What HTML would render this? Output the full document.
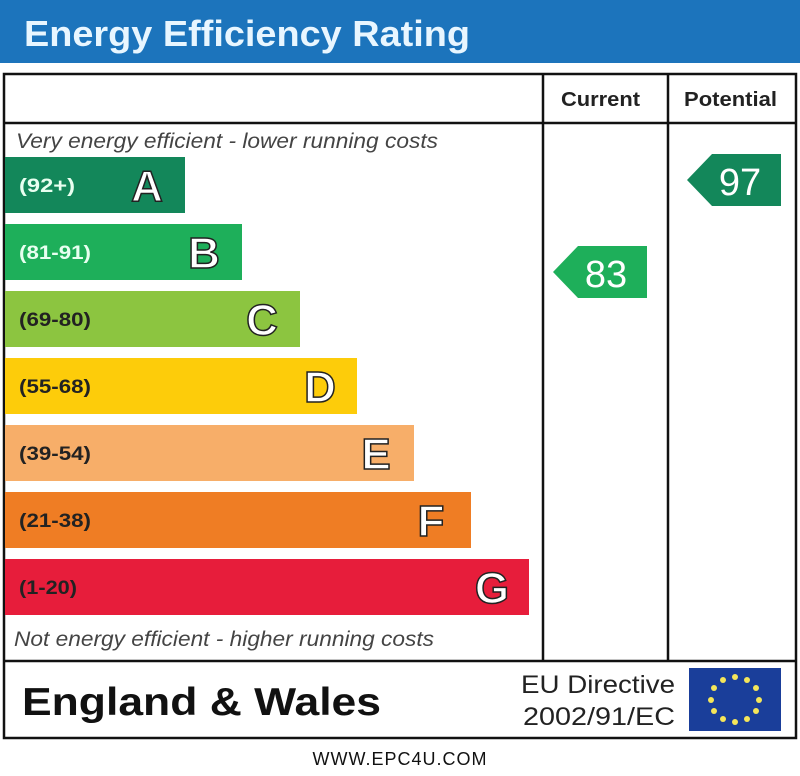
<!DOCTYPE html>
<html><head><meta charset="utf-8"><style>
html,body{margin:0;padding:0;background:#fff;}
svg{display:block;}
text{font-family:"Liberation Sans",Arial,sans-serif;}
</style></head><body>
<svg width="800" height="776" viewBox="0 0 800 776" xmlns="http://www.w3.org/2000/svg">
<rect x="0" y="0" width="800" height="776" fill="#fff"/>
<rect x="0" y="0" width="800" height="63" fill="#1c74bc"/>
<text x="24" y="46" font-size="36" font-weight="bold" fill="#e8f6ff" textLength="446" lengthAdjust="spacingAndGlyphs">Energy Efficiency Rating</text>
<rect x="4" y="74" width="792" height="664" fill="none" stroke="#111" stroke-width="2.5"/>
<line x1="4" y1="123" x2="796" y2="123" stroke="#111" stroke-width="2.5"/>
<line x1="543" y1="74" x2="543" y2="661" stroke="#111" stroke-width="2.5"/>
<line x1="668" y1="74" x2="668" y2="661" stroke="#111" stroke-width="2.5"/>
<line x1="4" y1="661" x2="796" y2="661" stroke="#111" stroke-width="2.5"/>
<text x="561" y="106" font-size="20" font-weight="bold" fill="#222" textLength="79" lengthAdjust="spacingAndGlyphs">Current</text>
<text x="684" y="106" font-size="20" font-weight="bold" fill="#222" textLength="93" lengthAdjust="spacingAndGlyphs">Potential</text>
<text x="16" y="148" font-size="21" font-style="italic" fill="#444" textLength="422" lengthAdjust="spacingAndGlyphs">Very energy efficient - lower running costs</text>
<text x="14" y="646" font-size="21" font-style="italic" fill="#444" textLength="420" lengthAdjust="spacingAndGlyphs">Not energy efficient - higher running costs</text>
<g font-weight="bold">
<rect x="5" y="157" width="180" height="56" fill="#13875a"/>
<text x="19" y="192" font-size="19" fill="#e8fff0" textLength="56" lengthAdjust="spacingAndGlyphs">(92+)</text>
<text x="147" y="201" font-size="44" fill="#fff" stroke="#222" stroke-width="1.5" text-anchor="middle">A</text>
<rect x="5" y="224" width="237" height="56" fill="#1eaf5a"/>
<text x="19" y="259" font-size="19" fill="#e8fff0" textLength="72" lengthAdjust="spacingAndGlyphs">(81-91)</text>
<text x="204" y="268" font-size="44" fill="#fff" stroke="#222" stroke-width="1.5" text-anchor="middle">B</text>
<rect x="5" y="291" width="295" height="56" fill="#8cc540"/>
<text x="19" y="326" font-size="19" fill="#222" textLength="72" lengthAdjust="spacingAndGlyphs">(69-80)</text>
<text x="262" y="335" font-size="44" fill="#fff" stroke="#222" stroke-width="1.5" text-anchor="middle">C</text>
<rect x="5" y="358" width="352" height="56" fill="#fdcc0a"/>
<text x="19" y="393" font-size="19" fill="#222" textLength="72" lengthAdjust="spacingAndGlyphs">(55-68)</text>
<text x="320" y="402" font-size="44" fill="#fff" stroke="#222" stroke-width="1.5" text-anchor="middle">D</text>
<rect x="5" y="425" width="409" height="56" fill="#f7ae69"/>
<text x="19" y="460" font-size="19" fill="#222" textLength="72" lengthAdjust="spacingAndGlyphs">(39-54)</text>
<text x="376" y="469" font-size="44" fill="#fff" stroke="#222" stroke-width="1.5" text-anchor="middle">E</text>
<rect x="5" y="492" width="466" height="56" fill="#ef7d24"/>
<text x="19" y="527" font-size="19" fill="#222" textLength="72" lengthAdjust="spacingAndGlyphs">(21-38)</text>
<text x="431" y="536" font-size="44" fill="#fff" stroke="#222" stroke-width="1.5" text-anchor="middle">F</text>
<rect x="5" y="559" width="524" height="56" fill="#e71d3b"/>
<text x="19" y="594" font-size="19" fill="#222" textLength="58" lengthAdjust="spacingAndGlyphs">(1-20)</text>
<text x="492" y="603" font-size="44" fill="#fff" stroke="#222" stroke-width="1.5" text-anchor="middle">G</text>
</g>
<polygon points="553,272 578,246 647,246 647,298 578,298" fill="#1eaf5a"/>
<text x="606" y="287" font-size="38" fill="#fff" text-anchor="middle">83</text>
<polygon points="687,180 712,154 781,154 781,206 712,206" fill="#13875a"/>
<text x="740" y="195" font-size="38" fill="#fff" text-anchor="middle">97</text>
<text x="22" y="715" font-size="39" font-weight="bold" fill="#111" textLength="359" lengthAdjust="spacingAndGlyphs">England &amp; Wales</text>
<text x="521" y="693" font-size="25" fill="#222" textLength="154" lengthAdjust="spacingAndGlyphs">EU Directive</text>
<text x="523" y="725" font-size="25" fill="#222" textLength="152" lengthAdjust="spacingAndGlyphs">2002/91/EC</text>
<rect x="689" y="668" width="92" height="63" fill="#1a3e9a"/>
<g fill="#f5e65a">
<circle cx="735" cy="677" r="3"/><circle cx="747" cy="680" r="3"/><circle cx="756" cy="688" r="3"/>
<circle cx="759" cy="700" r="3"/><circle cx="756" cy="711" r="3"/><circle cx="747" cy="719" r="3"/>
<circle cx="735" cy="722" r="3"/><circle cx="723" cy="719" r="3"/><circle cx="714" cy="711" r="3"/>
<circle cx="711" cy="700" r="3"/><circle cx="714" cy="688" r="3"/><circle cx="723" cy="680" r="3"/>
</g>
<text x="400" y="765" font-size="18" fill="#111" text-anchor="middle" letter-spacing="1">WWW.EPC4U.COM</text>
</svg>
</body></html>
